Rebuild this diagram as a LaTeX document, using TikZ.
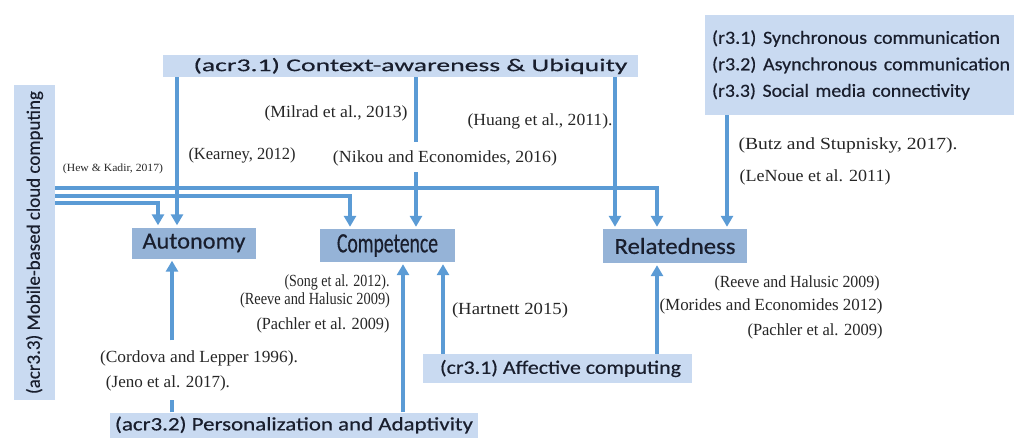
\documentclass[tikz,border=0pt]{standalone}
\usepackage{fontspec}
\setmainfont{Liberation Serif}
\newfontfamily\calfont[FakeBold=0.4]{Carlito}
\usepackage{graphicx}
\usetikzlibrary{arrows.meta}
\definecolor{arrowblue}{RGB}{91,155,213}
\definecolor{bannerblue}{RGB}{201,218,241}
\definecolor{boxblue}{RGB}{149,179,215}
\definecolor{inktext}{RGB}{25,30,45}
\newcommand\fitw[2]{\resizebox{#1}{\height}{#2}}
\begin{document}
\begin{tikzpicture}[x=1pt,y=-1pt,
  conn/.style={draw=arrowblue, line width=3.2pt, shorten >=2pt, -{Triangle[width=12pt,length=11pt]}},
  banner/.style={fill=bannerblue, inner sep=0pt, text=inktext},
  need/.style={fill=boxblue, inner sep=0pt, text=inktext, font=\calfont\fontsize{23}{25}\selectfont},
  cite/.style={inner sep=0pt, text=black!85, font=\fontsize{17}{19}\selectfont},
]
\useasboundingbox (0,0) rectangle (1016,437);

% banners
\node[banner, minimum width=475pt, minimum height=22pt, font=\calfont\fontsize{18}{20}\selectfont] (ctx) at (400.5,66)
  {\hspace{20pt}\fitw{434pt}{(acr3.1) Context-awareness \& Ubiquity}};
\node[banner, rotate=90, minimum width=315pt, minimum height=41pt, font=\calfont\fontsize{19}{21}\selectfont] (mob) at (34.5,242.5)
  {\fitw{303pt}{(acr3.3) Mobile-based cloud computing}};
\node[banner, minimum width=309pt, minimum height=100pt, align=left, text width=295pt, font=\calfont\fontsize{18.5}{26.5}\selectfont] (rr) at (859.5,65)
  {\fitw{288pt}{(r3.1) Synchronous communication}\\
   \fitw{298pt}{(r3.2) Asynchronous communication}\\
   \fitw{258pt}{(r3.3) Social media connectivity}};
\node[banner, minimum width=368pt, minimum height=25pt, font=\calfont\fontsize{19}{21}\selectfont] (per) at (294,425)
  {\fitw{358pt}{(acr3.2) Personalization and Adaptivity}};
\node[banner, minimum width=269pt, minimum height=29pt, font=\calfont\fontsize{19}{21}\selectfont] (aff) at (557.5,368.5)
  {\hspace{6pt}\fitw{241pt}{(cr3.1) Affective computing}};

% needs
\node[need, minimum width=124pt, minimum height=31pt] (aut) at (194,243) {\fitw{103pt}{Autonomy}};
\node[need, minimum width=135pt, minimum height=33pt, font=\calfont\fontsize{28}{30}\selectfont] (com) at (387.5,245.5) {\fitw{101pt}{Competence}};
\node[need, minimum width=144pt, minimum height=34pt] (rel) at (675,246) {\fitw{121pt}{Relatedness}};

% citations
\node[cite] (mil) at (336,113) {\fitw{143pt}{(Milrad et al., 2013)}};
\node[cite] (hua) at (540,121) {\fitw{145pt}{(Huang et al., 2011).}};
\node[cite] (kea) at (242,155) {\fitw{107pt}{(Kearney, 2012)}};
\node[cite] (nik) at (445,158) {\fitw{224pt}{(Nikou and Economides, 2016)}};
\node[cite, font=\fontsize{11}{13}\selectfont] (hew) at (113,169) {\fitw{100pt}{(Hew \& Kadir, 2017)}};
\node[cite] (but) at (848,145) {\fitw{219pt}{(Butz and Stupnisky, 2017).}};
\node[cite] (len) at (815,177) {\fitw{151pt}{(LeNoue et al. 2011)}};
\node[cite] (son) at (337,282) {\fitw{105pt}{(Song et al. 2012).}};
\node[cite] (rvl) at (315,300) {\fitw{150pt}{(Reeve and Halusic 2009)}};
\node[cite] (pal) at (323,325) {\fitw{133pt}{(Pachler et al. 2009)}};
\node[cite] (har) at (510,310) {\fitw{116pt}{(Hartnett 2015)}};
\node[cite] (rvr) at (797,283) {\fitw{165pt}{(Reeve and Halusic 2009)}};
\node[cite] (mor) at (771,306) {\fitw{223pt}{(Morides and Economides 2012)}};
\node[cite] (par) at (815,331) {\fitw{135pt}{(Pachler et al. 2009)}};
\node[cite] (cor) at (199,358) {\fitw{198pt}{(Cordova and Lepper 1996).}};
\node[cite] (jen) at (168,383) {\fitw{124pt}{(Jeno et al. 2017).}};

% connectors from context banner
\draw[conn] (177,0 |- ctx.south) -- (177,0 |- aut.north);
\draw[conn, dash pattern=on 65pt off 30pt on 400pt] (416,0 |- ctx.south) -- (416,0 |- com.north);
\draw[conn] (615,0 |- ctx.south) -- (615,0 |- rel.north);
% from mobile cloud box
\draw[conn] (mob.south |- 0,188) -| (657,0 |- rel.north);
\draw[conn] (mob.south |- 0,196) -| (350,0 |- com.north);
\draw[conn] (mob.south |- 0,203) -| (158,0 |- aut.north);
% from relatedness box
\draw[conn] (727,0 |- rr.south) -- (727,0 |- rel.north);
% from personalization banner
\draw[conn, dash pattern=on 12pt off 60pt on 400pt] (172,0 |- per.north) -- (172,0 |- aut.south);
\draw[conn] (403,0 |- per.north) -- (403,0 |- com.south);
% from affective computing
\draw[conn] (443,0 |- aff.north) -- (443,0 |- com.south);
\draw[conn] (657,0 |- aff.north) -- (657,0 |- rel.south);
\end{tikzpicture}
\end{document}
